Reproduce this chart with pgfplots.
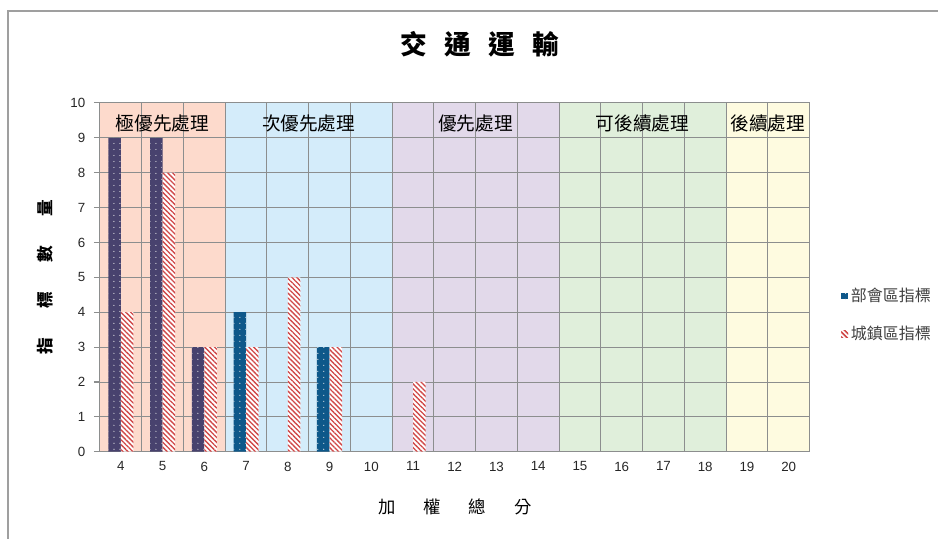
\documentclass[border=0pt]{standalone}
\usepackage{fontspec}
\setmainfont{Liberation Sans}
\newfontfamily\cjk{Noto Sans CJK TC}
\usepackage{pgfplots}
\pgfplotsset{compat=1.18}
\usetikzlibrary{patterns.meta}

\definecolor{bandA}{RGB}{253,218,204}
\definecolor{bandB}{RGB}{212,236,250}
\definecolor{bandC}{RGB}{226,217,234}
\definecolor{bandD}{RGB}{224,239,219}
\definecolor{bandE}{RGB}{254,251,224}
\definecolor{barpurple}{RGB}{72,66,110}
\definecolor{barblue}{RGB}{14,88,138}
\definecolor{barred}{RGB}{208,72,72}
\definecolor{gridc}{RGB}{140,142,142}

\tikzset{
  dotbar/.style={fill=#1, postaction={pattern={Dots[distance=4.5pt,radius=0.45pt]}, pattern color=white!85!gray}},
  stripebar/.style={fill=white, postaction={pattern={Lines[angle=-45,distance=2.6pt,line width=1.0pt]}, pattern color=barred}},
}

\begin{document}
\begin{tikzpicture}
\path (0,0) rectangle (704.25pt,404.25pt);
\draw[gray!75, line width=0.8pt] (6pt,0) -- (6pt,396pt) -- (704.25pt,396pt);

\begin{axis}[
  set layers,
  at={(75pt,65.25pt)}, anchor=south west,
  scale only axis, width=532.5pt, height=261.75pt,
  xmin=3.5, xmax=20.5, ymin=0, ymax=10,
  xtick={4,...,20}, ytick={0,...,10},
  minor xtick={4.5,5.5,...,19.5},
  xmajorgrids=false, xminorgrids=true, ymajorgrids=true,
  grid style={gridc, line width=0.7pt},
  minor grid style={gridc, line width=0.7pt},
  axis line style={gridc, line width=0.8pt},
  xtick style={draw=none}, minor x tick style={draw=none},
  ytick style={gridc, line width=0.8pt},
  ytick pos=left,
  ytick align=outside, major tick length=4.5pt,
  tick label style={font=\fontsize{10}{12}\selectfont, text=black!85},
  /pgf/number format/assume math mode=true,
  xticklabel style={yshift=-4pt},
  yticklabel style={xshift=-3pt},
  title={\cjk\bfseries 交\hspace{13pt}通\hspace{13pt}運\hspace{13pt}輸},
  title style={at={(axis description cs:0.535,1.146)}, anchor=center, font=\fontsize{20}{24}\selectfont},
  xlabel={\cjk 加\hspace{21pt}權\hspace{21pt}總\hspace{21pt}分},
  xlabel style={at={(axis description cs:0.5,-0.158)}, anchor=center, font=\fontsize{13}{16}\selectfont},
  ylabel={\cjk\bfseries 指\hspace{22pt}標\hspace{22pt}數\hspace{22pt}量},
  ylabel style={at={(axis description cs:-0.0775,0.5)}, anchor=center, font=\fontsize{12.5}{15}\selectfont},
  legend style={at={(axis description cs:1.039,0.3926)}, anchor=west, draw=none, fill=none,
    font=\cjk\fontsize{12}{14}\selectfont, text=black!75, row sep=13pt},
  legend cell align=left,
]
% priority bands behind the grid
\addplot[draw=none, fill=bandA, on layer=axis background, forget plot] coordinates {(3.5,0)(3.5,10)(6.5,10)(6.5,0)} \closedcycle;
\addplot[draw=none, fill=bandB, on layer=axis background, forget plot] coordinates {(6.5,0)(6.5,10)(10.5,10)(10.5,0)} \closedcycle;
\addplot[draw=none, fill=bandC, on layer=axis background, forget plot] coordinates {(10.5,0)(10.5,10)(14.5,10)(14.5,0)} \closedcycle;
\addplot[draw=none, fill=bandD, on layer=axis background, forget plot] coordinates {(14.5,0)(14.5,10)(18.5,10)(18.5,0)} \closedcycle;
\addplot[draw=none, fill=bandE, on layer=axis background, forget plot] coordinates {(18.5,0)(18.5,10)(20.5,10)(20.5,0)} \closedcycle;

% 部會區指標
\addplot[ybar, bar width=0.3, bar shift=-0.15, draw=none, dotbar=barblue,
  legend image code/.code={\fill[barblue] (0pt,-2.6pt) rectangle (5pt,2.4pt);}]
  coordinates {(7,4) (9,3)};
\addlegendentry{部會區指標}
\addplot[ybar, bar width=0.3, bar shift=-0.15, draw=none, dotbar=barpurple, forget plot]
  coordinates {(4,9) (5,9) (6,3)};
% 城鎮區指標
\addplot[ybar, bar width=0.3, bar shift=0.15, draw=none, stripebar,
  legend image code/.code={\path[stripebar] (0pt,-2.6pt) rectangle (5pt,2.4pt);}]
  coordinates {(4,4) (5,8) (6,3) (7,3) (8,5) (9,3) (11,2)};
\addlegendentry{城鎮區指標}

% band captions
\begin{scope}[font=\cjk\fontsize{14}{16}\selectfont]
\node at (axis cs:5,9.42) {極優先處理};
\node at (axis cs:8.5,9.42) {次優先處理};
\node at (axis cs:12.5,9.42) {優先處理};
\node at (axis cs:16.5,9.42) {可後續處理};
\node at (axis cs:19.5,9.42) {後續處理};
\end{scope}
\end{axis}
\end{tikzpicture}
\end{document}
